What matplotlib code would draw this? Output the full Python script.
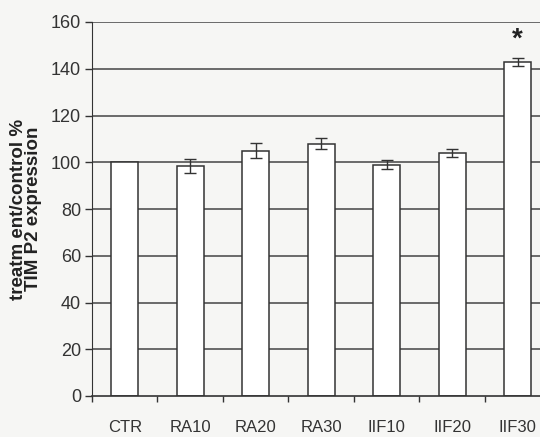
import matplotlib
matplotlib.use("Agg")
import matplotlib.pyplot as plt
import numpy as np

categories = ["CTR", "RA10", "RA20", "RA30", "IIF10", "IIF20", "IIF30"]
values = [100, 98.5, 105, 108, 99, 104, 143]
errors = [0, 3, 3.3, 2.3, 2, 1.8, 1.8]
significant = [False, False, False, False, False, False, True]

plt.rcParams['font.family'] = ['Liberation Sans', 'DejaVu Sans']
bg = "#f6f6f4"
ink = "#333333"

fig = plt.figure(figsize=(5.4, 4.37), dpi=100)
fig.patch.set_facecolor(bg)
ax = fig.add_axes([92 / 540, 41 / 437, 1 - 92 / 540, 374 / 437])
ax.set_facecolor(bg)

x = np.arange(len(categories))
ax.set_ylim(0, 160)
ax.set_xlim(-0.48, 6.34)

# horizontal gridlines behind the white bars
for yv in range(20, 161, 20):
    ax.axhline(yv, color="#444444", linewidth=1.1, zorder=1)

ax.bar(x, values, width=0.41, color="white", edgecolor=ink, linewidth=1.1, zorder=2)
for xi, v, e in zip(x, values, errors):
    if e > 0:
        ax.errorbar(xi, v, yerr=e, fmt="none", ecolor=ink, elinewidth=1.0,
                    capsize=4, capthick=1.0, zorder=3)
for xi, v, e, s in zip(x, values, errors, significant):
    if s:
        ax.text(xi, v + e + 2, "*", ha="center", va="bottom", fontsize=20,
                fontweight="bold", color="#222222")

ax.set_yticks(range(0, 161, 20))
ax.tick_params(axis="y", labelsize=13, length=5, width=1, colors=ink, pad=3)
ax.set_xticks(x)
ax.set_xticklabels(categories)
ax.tick_params(axis="x", length=0, labelsize=12, colors=ink, pad=17)
ax.set_xticks(np.arange(-0.5, 6.5, 1), minor=True)
ax.tick_params(axis="x", which="minor", length=4, width=1, direction="out", colors=ink)

for side in ["top", "right"]:
    ax.spines[side].set_visible(False)
ax.spines["left"].set_color(ink)
ax.spines["left"].set_linestyle((0, (6, 1)))
ax.spines["bottom"].set_color(ink)
ax.spines["bottom"].set_linewidth(1.2)

ax.set_ylabel("treatm ent/control %\nTIM P2 expression", fontsize=13.5,
              fontweight="bold", color="#222222", labelpad=6, linespacing=0.85)

plt.savefig("out.png", dpi=100, facecolor=bg)
plt.close()
